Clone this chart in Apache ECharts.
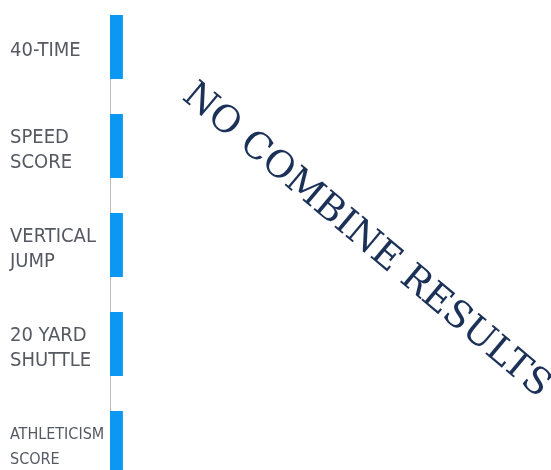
<!DOCTYPE html>
<html>
<head>
<meta charset="utf-8">
<script src="https://cdn.jsdelivr.net/npm/echarts@6/dist/echarts.min.js"></script>
<style>html,body{margin:0;padding:0;background:#fff;}#main{width:551px;height:470px;}</style>
</head>
<body>
<div id="main"></div>
<script>
const categories = ['40-TIME', 'SPEED\nSCORE', 'VERTICAL\nJUMP', '20 YARD\nSHUTTLE', 'ATHLETICISM\nSCORE'];
const values = [3, 3, 3, 3, 3];
const spacer = [null, null, null, null, null];
const overlayText = 'NO COMBINE RESULTS';

const labelFont = '"DejaVu Sans", sans-serif';
const chart = echarts.init(document.getElementById('main'));
chart.setOption({
  animation: false,
  grid: { left: 110, right: 11, top: 15, bottom: -40, outerBoundsMode: 'none', containLabel: false },
  xAxis: { type: 'value', min: 0, max: 100, show: false },
  yAxis: {
    type: 'category', data: categories, inverse: true,
    axisLine: { show: true, lineStyle: { color: '#bdbdbd', width: 1 } },
    axisTick: { show: false },
    axisLabel: {
      align: 'left', margin: 100, color: '#555962',
      fontFamily: labelFont, fontWeight: 'condensed',
      fontSize: 20, lineHeight: 25, padding: [0, 0, 27, 0],
      formatter: function (v) {
        if (v.indexOf('ATHLETICISM') === 0) return '{s|' + v.replace('\n', '}\n{s|') + '}';
        return v;
      },
      rich: { s: { fontSize: 16, lineHeight: 25, color: '#555962', fontFamily: labelFont, fontWeight: 'condensed' } }
    }
  },
  series: [
    { type: 'bar', data: values, barWidth: 64, barGap: 0, barCategoryGap: 0, itemStyle: { color: '#0A98F2' } },
    { type: 'bar', data: spacer, barWidth: 35, barGap: 0, barCategoryGap: 0 }
  ],
  graphic: [{
    type: 'text', x: 366, y: 241, rotation: -40 * Math.PI / 180,
    style: {
      text: overlayText, textAlign: 'center', textVerticalAlign: 'middle',
      fontFamily: '"DejaVu Serif", serif', fontSize: 37, fill: '#1B3157'
    }
  }]
});
</script>
</body>
</html>
